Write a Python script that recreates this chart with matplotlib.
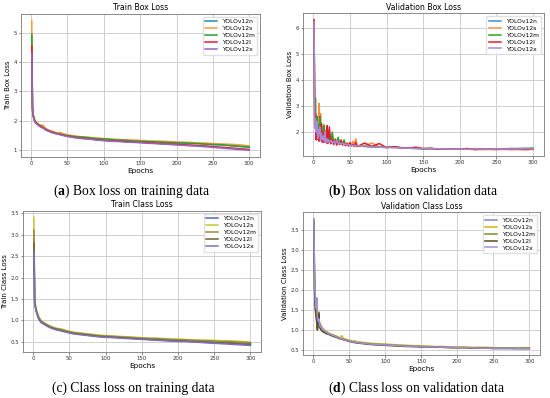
import matplotlib
matplotlib.use("Agg")
import matplotlib.pyplot as plt

ep_train = [1, 2, 3, 4, 5, 6, 7, 8, 10, 12, 14, 16, 18, 20, 25, 30, 35, 40, 45, 50, 55, 60,
            70, 80, 90, 100, 110, 120, 130, 140, 150, 160, 170, 180, 190, 200, 210, 220,
            230, 240, 250, 260, 270, 280, 290, 300]
ep_val = list(range(1, 21)) + list(range(22, 61, 2)) + list(range(70, 301, 10))

models = ["YOLOv12n", "YOLOv12s", "YOLOv12m", "YOLOv12l", "YOLOv12x"]

# (a) train box loss
tb_n = [4.90, 2.42, 2.20, 2.08, 2.02, 1.97, 1.95, 1.92, 1.88, 1.84, 1.81, 1.78, 1.75, 1.71, 1.66, 1.62,
        1.58, 1.55, 1.52, 1.50, 1.48, 1.46, 1.43, 1.42, 1.38, 1.38, 1.35, 1.35, 1.32, 1.32, 1.30, 1.29,
        1.28, 1.27, 1.26, 1.25, 1.24, 1.23, 1.22, 1.21, 1.19, 1.18, 1.16, 1.14, 1.12, 1.10]
tb_s = [5.42, 2.48, 2.22, 2.10, 2.04, 1.99, 1.96, 1.93, 1.89, 1.86, 1.84, 1.86, 1.80, 1.73, 1.68, 1.63,
        1.59, 1.60, 1.55, 1.52, 1.50, 1.48, 1.45, 1.43, 1.41, 1.39, 1.37, 1.36, 1.35, 1.34, 1.33, 1.31,
        1.31, 1.30, 1.29, 1.27, 1.27, 1.26, 1.24, 1.24, 1.22, 1.21, 1.20, 1.19, 1.17, 1.14]
tb_m = [4.95, 2.40, 2.18, 2.07, 2.01, 1.96, 1.94, 1.91, 1.87, 1.84, 1.81, 1.78, 1.75, 1.71, 1.65, 1.61,
        1.57, 1.54, 1.52, 1.49, 1.48, 1.46, 1.44, 1.42, 1.39, 1.38, 1.36, 1.34, 1.33, 1.31, 1.30, 1.29,
        1.28, 1.27, 1.26, 1.25, 1.24, 1.23, 1.22, 1.20, 1.19, 1.18, 1.16, 1.14, 1.12, 1.10]
tb_l = [4.55, 2.38, 2.16, 2.05, 1.99, 1.95, 1.92, 1.90, 1.86, 1.82, 1.79, 1.77, 1.74, 1.70, 1.64, 1.60,
        1.56, 1.53, 1.50, 1.47, 1.45, 1.43, 1.40, 1.38, 1.35, 1.33, 1.31, 1.30, 1.29, 1.27, 1.26, 1.25,
        1.24, 1.22, 1.21, 1.20, 1.18, 1.17, 1.15, 1.14, 1.12, 1.10, 1.08, 1.06, 1.04, 1.02]
tb_x = [4.30, 2.36, 2.14, 2.03, 1.97, 1.93, 1.90, 1.88, 1.84, 1.80, 1.77, 1.75, 1.72, 1.68, 1.63, 1.58,
        1.55, 1.52, 1.49, 1.46, 1.44, 1.42, 1.39, 1.37, 1.34, 1.32, 1.30, 1.29, 1.27, 1.26, 1.25, 1.23,
        1.22, 1.20, 1.19, 1.17, 1.16, 1.14, 1.13, 1.11, 1.09, 1.07, 1.05, 1.03, 1.01, 0.99]

# (b) validation box loss
vb_n = [6.30, 3.05, 2.30, 2.10, 2.55, 1.90, 2.20, 1.80, 2.35, 1.85, 2.05, 1.75, 1.95, 1.70, 2.10, 1.72, 1.85, 1.68, 1.90, 1.65,
        1.80, 1.62, 1.75, 1.60, 1.72, 1.58, 1.66, 1.56, 1.64, 1.55, 1.60, 1.53, 1.57, 1.52, 1.55, 1.50, 1.52, 1.49, 1.51, 1.48,
        1.46, 1.44, 1.43, 1.42, 1.41, 1.40, 1.40, 1.38, 1.37, 1.37, 1.36, 1.36, 1.35, 1.36, 1.35, 1.35, 1.36, 1.35, 1.36, 1.36,
        1.37, 1.36, 1.37, 1.37]
vb_s = [6.32, 2.60, 2.20, 1.95, 2.40, 1.80, 2.60, 3.10, 2.00, 2.70, 1.75, 2.20, 1.65, 2.30, 1.80, 1.70, 2.05, 1.62, 1.85, 1.60,
        1.95, 1.62, 1.80, 1.58, 1.75, 1.55, 1.70, 1.55, 1.65, 1.52, 1.62, 1.50, 1.58, 1.52, 1.55, 1.50, 1.65, 1.48, 1.75, 1.47,
        1.48, 1.58, 1.44, 1.42, 1.42, 1.40, 1.38, 1.38, 1.36, 1.36, 1.35, 1.35, 1.34, 1.34, 1.34, 1.33, 1.33, 1.33, 1.34, 1.33,
        1.34, 1.33, 1.33, 1.34]
vb_m = [6.28, 2.40, 3.30, 2.00, 2.60, 1.85, 2.30, 1.75, 2.60, 1.80, 2.35, 1.70, 2.00, 1.65, 2.25, 1.65, 1.80, 1.62, 2.10, 1.60,
        1.85, 1.58, 2.00, 1.57, 1.70, 1.55, 1.80, 1.54, 1.62, 1.52, 1.70, 1.50, 1.56, 1.50, 1.54, 1.48, 1.52, 1.47, 1.50, 1.46,
        1.45, 1.43, 1.42, 1.41, 1.44, 1.39, 1.38, 1.37, 1.36, 1.36, 1.35, 1.35, 1.34, 1.35, 1.34, 1.34, 1.35, 1.35, 1.35, 1.36,
        1.36, 1.37, 1.37, 1.38]
vb_l = [6.31, 2.20, 2.70, 1.70, 2.15, 1.72, 1.95, 1.65, 2.10, 1.70, 2.30, 1.62, 1.90, 1.60, 2.00, 1.62, 1.75, 1.58, 2.25, 1.56,
        2.20, 1.55, 1.70, 1.52, 1.68, 1.50, 1.62, 1.52, 1.70, 1.50, 1.58, 1.48, 1.55, 1.46, 1.60, 1.47, 1.52, 1.45, 1.60, 1.44,
        1.58, 1.45, 1.56, 1.40, 1.44, 1.40, 1.38, 1.42, 1.36, 1.38, 1.34, 1.36, 1.35, 1.34, 1.37, 1.33, 1.34, 1.34, 1.33, 1.35,
        1.33, 1.34, 1.33, 1.34]
vb_x = [6.25, 2.15, 2.50, 2.00, 2.40, 1.75, 2.10, 1.90, 2.20, 1.68, 1.95, 1.80, 1.70, 1.85, 1.65, 2.00, 1.60, 1.75, 1.62, 1.72,
        1.60, 1.68, 1.58, 1.65, 1.56, 1.70, 1.55, 1.60, 1.53, 1.58, 1.52, 1.55, 1.50, 1.52, 1.49, 1.50, 1.48, 1.50, 1.47, 1.48,
        1.45, 1.43, 1.42, 1.41, 1.40, 1.39, 1.38, 1.37, 1.37, 1.36, 1.36, 1.35, 1.35, 1.35, 1.34, 1.35, 1.35, 1.34, 1.35, 1.35,
        1.35, 1.35, 1.36, 1.36]

# (c) train class loss
tc_n = [3.00, 1.45, 1.33, 1.25, 1.19, 1.14, 1.09, 1.05, 1.00, 0.96, 0.94, 0.92, 0.90, 0.88, 0.84, 0.81,
        0.79, 0.77, 0.75, 0.73, 0.71, 0.70, 0.68, 0.66, 0.64, 0.63, 0.62, 0.61, 0.60, 0.59, 0.58, 0.57,
        0.57, 0.56, 0.55, 0.54, 0.54, 0.53, 0.52, 0.52, 0.51, 0.50, 0.50, 0.49, 0.48, 0.47]
tc_s = [3.40, 1.50, 1.36, 1.28, 1.22, 1.17, 1.12, 1.08, 1.02, 0.98, 0.96, 0.94, 0.92, 0.90, 0.86, 0.83,
        0.81, 0.80, 0.77, 0.75, 0.73, 0.72, 0.70, 0.68, 0.66, 0.65, 0.64, 0.63, 0.62, 0.61, 0.60, 0.59,
        0.59, 0.58, 0.57, 0.57, 0.56, 0.55, 0.55, 0.54, 0.54, 0.53, 0.53, 0.52, 0.51, 0.50]
tc_m = [3.10, 1.47, 1.34, 1.26, 1.20, 1.15, 1.10, 1.06, 1.01, 0.97, 0.95, 0.93, 0.91, 0.89, 0.85, 0.82,
        0.80, 0.78, 0.76, 0.74, 0.72, 0.71, 0.69, 0.67, 0.65, 0.64, 0.63, 0.62, 0.61, 0.60, 0.59, 0.58,
        0.58, 0.57, 0.56, 0.55, 0.55, 0.54, 0.53, 0.53, 0.52, 0.51, 0.51, 0.50, 0.49, 0.48]
tc_l = [2.80, 1.43, 1.31, 1.23, 1.17, 1.12, 1.07, 1.03, 0.98, 0.95, 0.93, 0.91, 0.89, 0.87, 0.83, 0.80,
        0.78, 0.76, 0.74, 0.72, 0.70, 0.69, 0.67, 0.65, 0.63, 0.62, 0.61, 0.60, 0.59, 0.58, 0.57, 0.56,
        0.55, 0.54, 0.53, 0.52, 0.52, 0.51, 0.50, 0.49, 0.48, 0.48, 0.47, 0.46, 0.45, 0.44]
tc_x = [2.60, 1.40, 1.30, 1.22, 1.16, 1.11, 1.06, 1.02, 0.97, 0.94, 0.92, 0.90, 0.88, 0.86, 0.82, 0.79,
        0.77, 0.75, 0.73, 0.71, 0.69, 0.68, 0.66, 0.64, 0.62, 0.61, 0.60, 0.59, 0.58, 0.57, 0.56, 0.55,
        0.54, 0.53, 0.52, 0.51, 0.51, 0.50, 0.49, 0.48, 0.47, 0.46, 0.45, 0.44, 0.43, 0.42]

# (d) validation class loss
vc_n = [3.78, 2.40, 1.85, 1.60, 1.80, 1.35, 1.25, 1.30, 1.15, 1.10, 1.12, 1.05, 1.06, 1.02, 1.00, 0.99, 0.97, 0.96, 0.95, 0.94,
        0.92, 0.90, 0.89, 0.87, 0.86, 0.84, 0.83, 0.81, 0.80, 0.79, 0.78, 0.77, 0.76, 0.75, 0.74, 0.73, 0.72, 0.71, 0.70, 0.70,
        0.68, 0.66, 0.65, 0.64, 0.63, 0.62, 0.61, 0.60, 0.59, 0.59, 0.58, 0.58, 0.57, 0.57, 0.57, 0.56, 0.56, 0.56, 0.55, 0.55,
        0.55, 0.55, 0.55, 0.55]
vc_s = [3.75, 2.20, 1.70, 1.50, 1.25, 1.40, 1.20, 1.35, 1.10, 1.15, 1.05, 1.08, 1.00, 1.03, 0.98, 1.00, 0.96, 0.97, 0.94, 0.95,
        0.92, 0.91, 0.89, 0.88, 0.86, 0.85, 0.84, 0.82, 0.81, 0.86, 0.79, 0.78, 0.77, 0.76, 0.75, 0.74, 0.73, 0.72, 0.73, 0.71,
        0.69, 0.67, 0.66, 0.65, 0.64, 0.63, 0.62, 0.61, 0.61, 0.60, 0.59, 0.59, 0.58, 0.58, 0.58, 0.57, 0.57, 0.57, 0.56, 0.56,
        0.56, 0.56, 0.56, 0.56]
vc_m = [3.70, 2.10, 1.60, 1.40, 1.30, 1.05, 1.20, 1.45, 1.08, 1.12, 1.02, 1.05, 0.98, 1.00, 0.96, 0.97, 0.94, 0.95, 0.92, 0.93,
        0.90, 0.89, 0.87, 0.86, 0.85, 0.83, 0.82, 0.80, 0.79, 0.78, 0.77, 0.76, 0.75, 0.74, 0.73, 0.72, 0.71, 0.70, 0.70, 0.69,
        0.67, 0.65, 0.64, 0.63, 0.62, 0.61, 0.60, 0.59, 0.59, 0.58, 0.58, 0.57, 0.57, 0.56, 0.56, 0.56, 0.55, 0.55, 0.55, 0.55,
        0.55, 0.54, 0.54, 0.54]
vc_l = [3.72, 2.00, 1.55, 1.35, 1.20, 1.00, 1.28, 1.40, 1.05, 1.10, 1.00, 1.02, 0.96, 0.98, 0.94, 0.95, 0.92, 0.93, 0.90, 0.91,
        0.89, 0.87, 0.86, 0.84, 0.83, 0.82, 0.80, 0.79, 0.78, 0.77, 0.76, 0.75, 0.74, 0.73, 0.72, 0.71, 0.70, 0.69, 0.69, 0.68,
        0.66, 0.64, 0.63, 0.62, 0.61, 0.60, 0.59, 0.59, 0.58, 0.58, 0.57, 0.57, 0.56, 0.56, 0.56, 0.55, 0.55, 0.55, 0.54, 0.54,
        0.54, 0.54, 0.54, 0.54]
vc_x = [3.76, 2.30, 1.80, 1.55, 1.75, 1.30, 1.22, 1.28, 1.12, 1.08, 1.10, 1.03, 1.04, 1.00, 0.99, 0.98, 0.96, 0.95, 0.94, 0.93,
        0.91, 0.89, 0.88, 0.86, 0.85, 0.83, 0.82, 0.80, 0.79, 0.78, 0.77, 0.76, 0.75, 0.74, 0.73, 0.72, 0.71, 0.70, 0.70, 0.69,
        0.67, 0.65, 0.64, 0.63, 0.62, 0.61, 0.60, 0.59, 0.59, 0.58, 0.58, 0.57, 0.57, 0.56, 0.56, 0.56, 0.55, 0.55, 0.55, 0.55,
        0.55, 0.55, 0.54, 0.54]

plt.rcParams['font.family'] = ['DejaVu Sans']
plt.rcParams['mathtext.fontset'] = 'custom'
plt.rcParams['mathtext.rm'] = 'Liberation Serif'
plt.rcParams['mathtext.bf'] = 'Liberation Serif:bold'

box_cols = ['#1f8fa8', '#ff9a3c', '#2ca02c', '#e8193c', '#9467bd']
box_cols_v = ['#3f8fc4', '#ff8c42', '#2ca02c', '#e31a2c', '#a98ad0']
cls_cols = ['#4a6fb5', '#c8c830', '#9a8a3a', '#6e5f35', '#7b6fc0']
cls_cols_v = ['#7c88cc', '#d4b21c', '#7d8a2a', '#5a4a20', '#9f90d8']

panels = [
    ([0.038, 0.606, 0.435, 0.359], ep_train, [tb_n, tb_s, tb_m, tb_l, tb_x], box_cols,
     "Train Box Loss", "Train Box Loss", r"($\mathbf{a}$) Box loss on training data", (0.240, 0.52)),
    ([0.551, 0.608, 0.438, 0.359], ep_val, [vb_n, vb_s, vb_m, vb_l, vb_x], box_cols_v,
     "Validation Box Loss", "Validation Box Loss", r"($\mathbf{b}$) Box loss on validation data", (0.752, 0.52)),
    ([0.042, 0.116, 0.433, 0.354], ep_train, [tc_n, tc_s, tc_m, tc_l, tc_x], cls_cols,
     "Train Class Loss", "Train Class Loss", r"(c) Class loss on training data", (0.242, 0.025)),
    ([0.551, 0.108, 0.431, 0.359], ep_val, [vc_n, vc_s, vc_m, vc_l, vc_x], cls_cols_v,
     "Validation Class Loss", "Validation Class Loss", r"($\mathbf{d}$) Class loss on validation data", (0.757, 0.025)),
]

fig = plt.figure(figsize=(5.5, 3.98), dpi=100)
for rect, ep, series, cols, title, ylab, cap, cap_xy in panels:
    ax = fig.add_axes(rect)
    for vals, name, c in zip(series, models, cols):
        ax.plot(ep, vals, color=c, lw=1.1, label=name)
    ax.set_title(title, fontsize=5.6, pad=2.5)
    ax.set_xlabel("Epochs", fontsize=5.3, labelpad=1.2)
    ax.set_ylabel(ylab, fontsize=5.0, labelpad=1.5)
    ax.set_xticks([0, 50, 100, 150, 200, 250, 300])
    ax.tick_params(labelsize=3.9, length=1.8, width=0.4, pad=1.2, colors='#333333')
    ax.grid(True, color='#cfcfcf', lw=0.7)
    for sp in ax.spines.values():
        sp.set_color('#777777')
        sp.set_linewidth(0.6)
    ax.legend(loc='upper right', fontsize=4.3, frameon=True, handlelength=2.0,
              borderpad=0.4, labelspacing=0.3, fancybox=True, framealpha=0.9,
              edgecolor='#dddddd')
    fig.text(cap_xy[0], cap_xy[1], cap, ha='center', va='center', fontsize=9.8,
             family='Liberation Serif')

fig.savefig("out.png", dpi=100)
